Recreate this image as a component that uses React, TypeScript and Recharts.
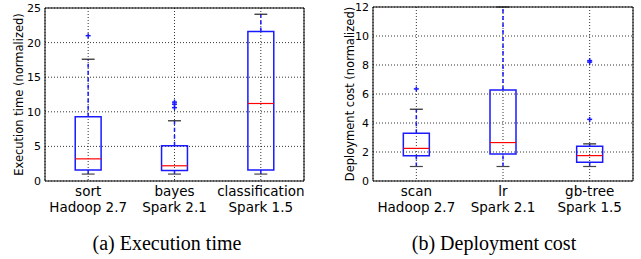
import React from "react";
import {
  ComposedChart,
  Scatter,
  XAxis,
  YAxis,
  CartesianGrid,
  ReferenceArea,
  ReferenceLine,
} from "recharts";

// Execution time panel
const execApps = ["sort", "bayes", "classification"];
const execPlatforms = ["Hadoop 2.7", "Spark 2.1", "Spark 1.5"];
const execLow = [1.0, 1.0, 1.0];
const execQ1 = [1.6, 1.5, 1.6];
const execMedian = [3.2, 2.2, 11.2];
const execQ3 = [9.3, 5.1, 21.6];
const execHigh = [17.6, 8.7, 24.1];
const execOutliers = [[21.0], [10.6, 11.1, 11.4], []];
const execTicks = [0, 5, 10, 15, 20, 25];

// Deployment cost panel
const costApps = ["scan", "lr", "gb-tree"];
const costPlatforms = ["Hadoop 2.7", "Spark 2.1", "Spark 1.5"];
const costLow = [1.0, 1.0, 1.0];
const costQ1 = [1.75, 1.87, 1.29];
const costMedian = [2.25, 2.65, 1.75];
const costQ3 = [3.3, 6.27, 2.4];
const costHigh = [4.95, 12.0, 2.56];
const costOutliers = [[6.35], [], [4.25, 8.2, 8.3]];
const costTicks = [0, 2, 4, 6, 8, 10, 12];

const FONT = "DejaVu Sans, sans-serif";
const BLUE = "#1a1aff";
const HALF_BOX = 0.15;
const HALF_CAP = 0.075;

interface PanelProps {
  apps: string[];
  platforms: string[];
  low: number[];
  q1: number[];
  median: number[];
  q3: number[];
  high: number[];
  outliers: number[][];
  ticks: number[];
  yLabel: string;
  yAxisWidth: number;
  labelDx: number;
  width: number;
  rightMargin: number;
  top: number;
}

const PlusMark = (props: any) => {
  const { cx, cy } = props;
  return (
    <g stroke={BLUE} strokeWidth={1.5}>
      <line x1={cx - 2.5} x2={cx + 2.5} y1={cy} y2={cy} />
      <line x1={cx} x2={cx} y1={cy - 2.5} y2={cy + 2.5} />
    </g>
  );
};

function BoxPanel(p: PanelProps) {
  const xs = p.apps.map((_, i) => i + 1);
  const yMax = p.ticks[p.ticks.length - 1];
  const outlierData = p.outliers.flatMap((vals, i) =>
    vals.map((v) => ({ x: i + 1, y: v }))
  );

  const XTick = (props: any) => {
    const { x, y, payload } = props;
    const i = payload.value - 1;
    return (
      <text
        x={x}
        y={y}
        textAnchor="middle"
        fontSize={13.5}
        fontFamily={FONT}
        fill="#000"
      >
        <tspan x={x} dy={13}>
          {p.apps[i]}
        </tspan>
        <tspan x={x} dy={16}>
          {p.platforms[i]}
        </tspan>
      </text>
    );
  };

  return (
    <ComposedChart
      width={p.width}
      height={215}
      margin={{ top: p.top, right: p.rightMargin, bottom: 0, left: 0 }}
    >
      <CartesianGrid stroke="#000" strokeDasharray="1 2" strokeWidth={0.8} />
      <XAxis
        type="number"
        dataKey="x"
        domain={[0.5, 3.5]}
        ticks={xs}
        allowDataOverflow
        axisLine={false}
        tickLine={false}
        tickSize={0}
        height={34}
        tick={<XTick />}
      />
      <YAxis
        type="number"
        dataKey="y"
        domain={[0, yMax]}
        ticks={p.ticks}
        allowDataOverflow
        axisLine={false}
        tickLine={false}
        tickSize={2}
        width={p.yAxisWidth}
        tick={{ fontSize: 11, fontFamily: FONT, fill: "#000" }}
        label={{
          value: p.yLabel,
          angle: -90,
          position: "center",
          dx: p.labelDx,
          style: { fontSize: 11.5, fontFamily: FONT, fill: "#000", textAnchor: "middle" },
        }}
      />
      <ReferenceArea
        x1={0.5}
        x2={3.5}
        y1={0}
        y2={yMax}
        stroke="#000"
        strokeWidth={1}
        fill="none"
        fillOpacity={0}
        ifOverflow="visible"
      />
      {xs.map((x, i) => (
        <React.Fragment key={p.apps[i]}>
          <ReferenceLine
            segment={[
              { x, y: p.q3[i] },
              { x, y: p.high[i] },
            ]}
            stroke={BLUE}
            strokeWidth={1.5}
            strokeDasharray="4 3"
            ifOverflow="visible"
          />
          <ReferenceLine
            segment={[
              { x, y: p.low[i] },
              { x, y: p.q1[i] },
            ]}
            stroke={BLUE}
            strokeWidth={1.5}
            strokeDasharray="4 3"
            ifOverflow="visible"
          />
          <ReferenceLine
            segment={[
              { x: x - HALF_CAP, y: p.high[i] },
              { x: x + HALF_CAP, y: p.high[i] },
            ]}
            stroke="#222"
            strokeWidth={1.2}
            ifOverflow="visible"
          />
          <ReferenceLine
            segment={[
              { x: x - HALF_CAP, y: p.low[i] },
              { x: x + HALF_CAP, y: p.low[i] },
            ]}
            stroke="#444"
            strokeWidth={1.2}
            ifOverflow="visible"
          />
          <ReferenceArea
            x1={x - HALF_BOX}
            x2={x + HALF_BOX}
            y1={p.q1[i]}
            y2={p.q3[i]}
            stroke={BLUE}
            strokeWidth={1.5}
            fill="none"
            fillOpacity={0}
            ifOverflow="visible"
          />
          <ReferenceLine
            segment={[
              { x: x - HALF_BOX, y: p.median[i] },
              { x: x + HALF_BOX, y: p.median[i] },
            ]}
            stroke="#ff0000"
            strokeWidth={1.2}
            ifOverflow="visible"
          />
        </React.Fragment>
      ))}
      <Scatter
        data={outlierData}
        dataKey="y"
        shape={<PlusMark />}
        isAnimationActive={false}
      />
    </ComposedChart>
  );
}

export default function App() {
  return (
    <div
      style={{
        position: "absolute",
        left: 0,
        top: 0,
        width: 641,
        height: 259,
        background: "#fff",
        overflow: "hidden",
      }}
    >
      <div style={{ position: "absolute", left: 0, top: 0 }}>
        <BoxPanel
          apps={execApps}
          platforms={execPlatforms}
          low={execLow}
          q1={execQ1}
          median={execMedian}
          q3={execQ3}
          high={execHigh}
          outliers={execOutliers}
          ticks={execTicks}
          yLabel="Execution time (normalized)"
          yAxisWidth={45}
          labelDx={-4}
          width={320}
          rightMargin={16}
          top={8}
        />
      </div>
      <div style={{ position: "absolute", left: 320, top: 0 }}>
        <BoxPanel
          apps={costApps}
          platforms={costPlatforms}
          low={costLow}
          q1={costQ1}
          median={costMedian}
          q3={costQ3}
          high={costHigh}
          outliers={costOutliers}
          ticks={costTicks}
          yLabel="Deployment cost (normalized)"
          yAxisWidth={53}
          labelDx={3.5}
          width={321}
          rightMargin={8}
          top={7}
        />
      </div>
      <svg
        width={641}
        height={259}
        style={{ position: "absolute", left: 0, top: 0, pointerEvents: "none" }}
      >
        <text
          x={167}
          y={250}
          textAnchor="middle"
          fontSize={20}
          fontFamily="Liberation Serif, Times New Roman, serif"
          fill="#000"
        >
          (a) Execution time
        </text>
        <text
          x={494}
          y={250}
          textAnchor="middle"
          fontSize={20}
          fontFamily="Liberation Serif, Times New Roman, serif"
          fill="#000"
        >
          (b) Deployment cost
        </text>
      </svg>
    </div>
  );
}
